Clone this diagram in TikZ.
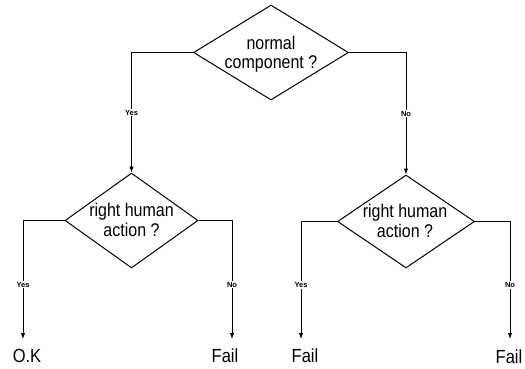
\documentclass[tikz,border=0pt]{standalone}
\usepackage{fontspec}
\usepackage{graphicx}
\setmainfont{Liberation Sans}
\usetikzlibrary{shapes.geometric,arrows.meta}
\newcommand{\vst}[1]{\scalebox{1}[1.15]{#1}}
\begin{document}
\begin{tikzpicture}[x=1pt,y=-1pt,
  dec/.style={diamond,draw,line width=1pt,inner sep=0pt},
  dtext/.style={inner sep=0pt,align=center,font=\fontsize{16}{19.5}\selectfont},
  res/.style={inner sep=0pt,font=\fontsize{16.5}{19}\selectfont},
  conn/.style={line width=1pt,-{Latex[length=6pt,width=4.5pt]}},
  lab/.style={fill=white,inner sep=1pt,font=\bfseries\fontsize{7.5}{8}\selectfont}]
\useasboundingbox (0,0) rectangle (525,368);
% decisions
\node[dec,minimum width=155,minimum height=95] (d1) at (271,52.5) {};
\node[dtext] (t1) at (271,54) {\vst{normal}\\\vst{component ?}};
\node[dec,minimum width=133,minimum height=95] (d2) at (131.5,220.5) {};
\node[dtext] (t2) at (131.5,220) {\vst{right human}\\\vst{action ?}};
\node[dec,minimum width=137,minimum height=93] (d3) at (406,221.5) {};
\node[dtext] (t3) at (405,221) {\vst{right human}\\\vst{action ?}};
% arrow ends
\coordinate (e1) at (23,339);
\coordinate (e2) at (232,339);
\coordinate (e3) at (301,339);
\coordinate (e4) at (510,339);
% results
\node[res] (r1) at (27,356) {\vst{O.K}};
\node[res] (r2) at (225,356) {\vst{Fail}};
\node[res] (r3) at (305,356) {\vst{Fail}};
\node[res] (r4) at (509,357) {\vst{Fail}};
% connectors
\draw[conn] (d1.west) -| node[lab,pos=0.75] {Yes} (d2.north);
\draw[conn] (d1.east) -| node[lab,pos=0.75] {No} (d3.north);
\draw[conn] (d2.west) -| node[lab,pos=0.77] {Yes} (e1);
\draw[conn] (d2.east) -| node[lab,pos=0.77] {No} (e2);
\draw[conn] (d3.west) -| node[lab,pos=0.77] {Yes} (e3);
\draw[conn] (d3.east) -| node[lab,pos=0.77] {No} (e4);
\end{tikzpicture}
\end{document}
